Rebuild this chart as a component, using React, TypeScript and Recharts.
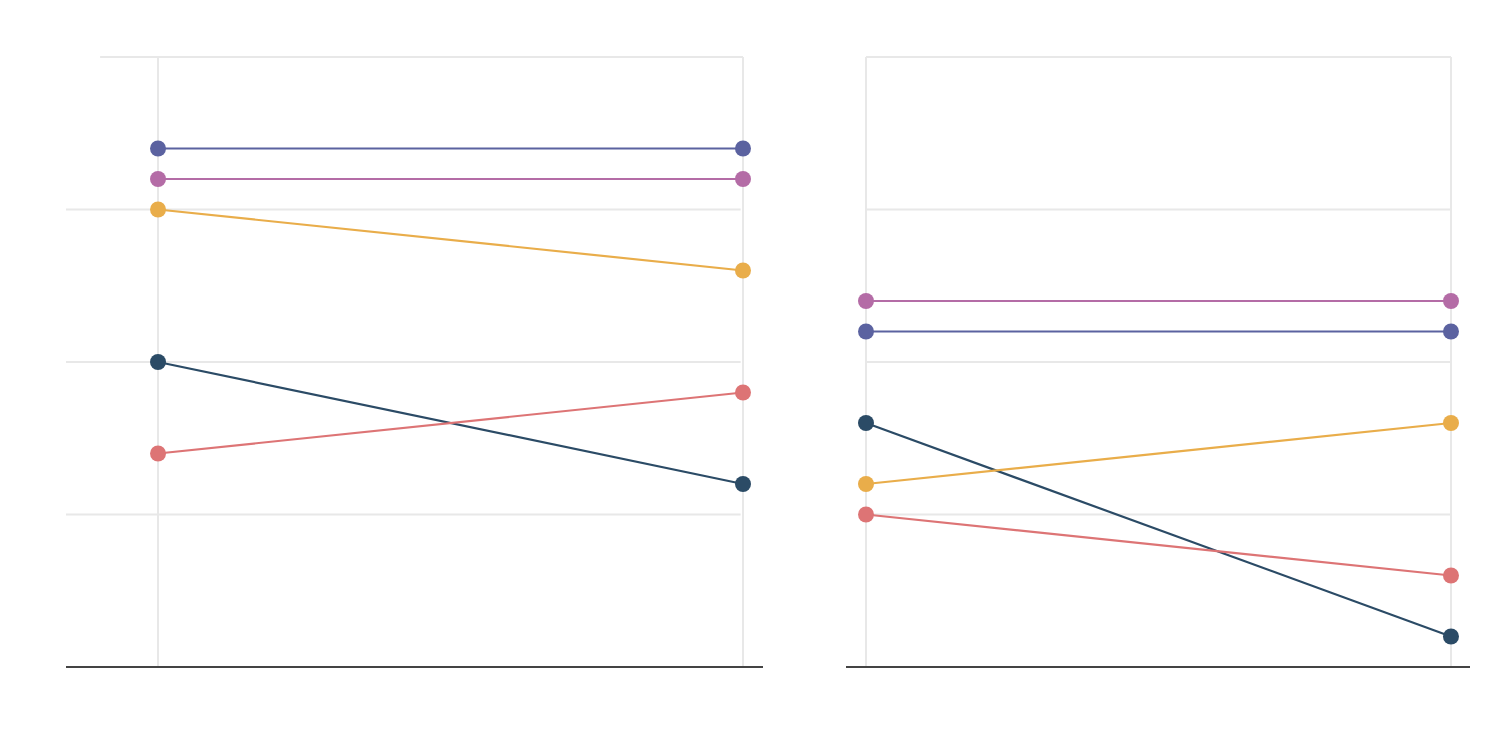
import React from "react";
import { LineChart, Line, XAxis, YAxis, ReferenceLine } from "recharts";

// Two time points (first and second period)
const periods = [0, 1];

// Left panel series values
const leftIndigo = [17, 17];
const leftOrchid = [16, 16];
const leftAmber = [15, 13];
const leftNavy = [10, 6];
const leftCoral = [7, 9];

// Right panel series values
const rightOrchid = [12, 12];
const rightIndigo = [11, 11];
const rightNavy = [8, 1];
const rightAmber = [6, 8];
const rightCoral = [5, 3];

const yTicks = [0, 5, 10, 15, 20];

const COLORS = {
  indigo: "#5b62a0",
  orchid: "#b46ca6",
  amber: "#e9ad4a",
  navy: "#2b4b66",
  coral: "#dd7475",
};

const GRID = "#e8e8e8";

type SeriesDef = { key: string; values: number[]; color: string };

const buildRows = (series: SeriesDef[]) =>
  periods.map((p, i) => {
    const row: Record<string, number> = { t: p };
    series.forEach((s) => {
      row[s.key] = s.values[i];
    });
    return row;
  });

const leftSeries: SeriesDef[] = [
  { key: "navy", values: leftNavy, color: COLORS.navy },
  { key: "coral", values: leftCoral, color: COLORS.coral },
  { key: "amber", values: leftAmber, color: COLORS.amber },
  { key: "orchid", values: leftOrchid, color: COLORS.orchid },
  { key: "indigo", values: leftIndigo, color: COLORS.indigo },
];

const rightSeries: SeriesDef[] = [
  { key: "navy", values: rightNavy, color: COLORS.navy },
  { key: "coral", values: rightCoral, color: COLORS.coral },
  { key: "amber", values: rightAmber, color: COLORS.amber },
  { key: "indigo", values: rightIndigo, color: COLORS.indigo },
  { key: "orchid", values: rightOrchid, color: COLORS.orchid },
];

type PanelProps = {
  series: SeriesDef[];
  width: number;
  margin: { top: number; right: number; bottom: number; left: number };
  xDomain: [number, number];
  gridStart: number;
  gridEnd: number;
  topStart: number;
  topEnd: number;
};

const Panel = ({ series, width, margin, xDomain, gridStart, gridEnd, topStart, topEnd }: PanelProps) => {
  const rows = buildRows(series);
  return (
    <LineChart width={width} height={736} data={rows} margin={margin}>
      <XAxis
        dataKey="t"
        type="number"
        domain={xDomain}
        ticks={periods}
        tick={false}
        tickLine={false}
        axisLine={{ stroke: "#444444", strokeWidth: 2 }}
        height={1}
        allowDataOverflow
      />
      <YAxis hide type="number" domain={[0, 20]} ticks={yTicks} allowDataOverflow />
      {yTicks.slice(1, 4).map((v) => (
        <ReferenceLine
          key={`h${v}`}
          segment={[
            { x: gridStart, y: v },
            { x: gridEnd, y: v },
          ]}
          stroke={GRID}
          strokeWidth={2}
          ifOverflow="visible"
        />
      ))}
      <ReferenceLine
        segment={[
          { x: topStart, y: 20 },
          { x: topEnd, y: 20 },
        ]}
        stroke={GRID}
        strokeWidth={2}
        ifOverflow="visible"
      />
      {periods.map((p) => (
        <ReferenceLine
          key={`v${p}`}
          segment={[
            { x: p, y: 0 },
            { x: p, y: 20 },
          ]}
          stroke={GRID}
          strokeWidth={2}
          ifOverflow="visible"
        />
      ))}
      {series.map((s) => (
        <Line
          key={s.key}
          dataKey={s.key}
          stroke={s.color}
          strokeWidth={2.2}
          dot={{ r: 8, fill: s.color, stroke: "none", strokeWidth: 0 }}
          activeDot={false}
          isAnimationActive={false}
          type="linear"
        />
      ))}
    </LineChart>
  );
};

export default function App() {
  return (
    <div
      style={{
        position: "absolute",
        left: 0,
        top: 0,
        width: 1500,
        height: 736,
        background: "#ffffff",
        display: "flex",
      }}
    >
      <Panel
        series={leftSeries}
        width={780}
        margin={{ top: 57, right: 17, bottom: 68, left: 66 }}
        xDomain={[-0.1573, 1.0342]}
        gridStart={-0.1573}
        gridEnd={0.996}
        topStart={-0.099}
        topEnd={1}
      />
      <Panel
        series={rightSeries}
        width={720}
        margin={{ top: 57, right: 30, bottom: 68, left: 66 }}
        xDomain={[-0.0342, 1.0325]}
        gridStart={0}
        gridEnd={1}
        topStart={0}
        topEnd={1}
      />
    </div>
  );
}
